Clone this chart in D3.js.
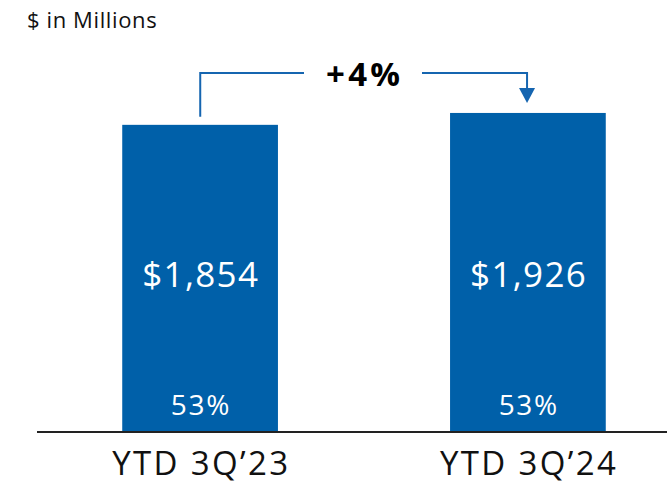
<!DOCTYPE html>
<html>
<head>
    <title>YTD 3Q Comparison</title>
    <script src="https://d3js.org/d3.v7.min.js"></script>
    <style>
        body { margin: 0; background: #fff; font-family: "Open Sans", Lato, sans-serif; }
    </style>
</head>
<body>
<div class="chart"></div>
<script>
    const categories = ["YTD 3Q\u201923", "YTD 3Q\u201924"];
    const values = [1854, 1926];
    const shares = ["53%", "53%"];
    const unitLabel = "$ in Millions";
    const changeLabel = "+4%";

    const W = 667, H = 486;
    const svg = d3.select(".chart").append("svg").attr("width", W).attr("height", H);

    const baseY = 431;
    const blue = "#0060A9";

    const x = d3.scaleBand().domain(categories).range([37, 691]).paddingInner(0.525).paddingOuter(0.26);
    const y = d3.scaleLinear().domain([0, 2610]).range([baseY, 0]);

    // the original face is wider than Open Sans, so stretch letter spacing a bit
    function widen(sel, extra) {
        sel.each(function() {
            const len = this.getComputedTextLength();
            d3.select(this).attr("textLength", len * extra).attr("lengthAdjust", "spacing");
        });
    }

    svg.append("text")
        .attr("x", 27).attr("y", 28)
        .attr("font-size", 22).attr("fill", "#111")
        .text(unitLabel)
        .call(widen, 1.06);

    svg.selectAll(".bar")
        .data(values)
        .enter().append("rect")
        .attr("class", "bar")
        .attr("x", (d, i) => x(categories[i]))
        .attr("width", x.bandwidth())
        .attr("y", d => y(d))
        .attr("height", d => baseY - y(d))
        .attr("fill", blue);

    svg.selectAll(".val")
        .data(values)
        .enter().append("text")
        .attr("x", (d, i) => x(categories[i]) + x.bandwidth() / 2)
        .attr("y", 287)
        .attr("text-anchor", "middle")
        .attr("font-size", 35).attr("fill", "#fff")
        .text(d => "$" + d3.format(",")(d))
        .call(widen, 1.06);

    svg.selectAll(".share")
        .data(shares)
        .enter().append("text")
        .attr("x", (d, i) => x(categories[i]) + x.bandwidth() / 2)
        .attr("y", 415)
        .attr("text-anchor", "middle")
        .attr("font-size", 28).attr("fill", "#fff")
        .text(d => d)
        .call(widen, 1.06);

    // baseline
    svg.append("line")
        .attr("x1", 37).attr("x2", W)
        .attr("y1", baseY + 1).attr("y2", baseY + 1)
        .attr("stroke", "#222").attr("stroke-width", 2);

    svg.selectAll(".cat")
        .data(categories)
        .enter().append("text")
        .attr("x", d => x(d) + x.bandwidth() / 2)
        .attr("y", 475)
        .attr("text-anchor", "middle")
        .attr("font-size", 33).attr("fill", "#111")
        .text(d => d)
        .call(widen, 1.12);

    // change bracket
    const x1 = x(categories[0]) + 78, x2 = x(categories[1]) + 77;
    const topY = 73;
    const bracket = svg.append("g").attr("stroke", "#1565B0").attr("stroke-width", 2).attr("fill", "none");
    bracket.append("path").attr("d", `M${x1},${y(values[0]) - 8}V${topY}H304`);
    bracket.append("path").attr("d", `M422,${topY}H${x2}V${89}`);
    svg.append("path")
        .attr("d", `M${x2 - 8},88L${x2 + 8},88L${x2},103Z`)
        .attr("fill", "#1565B0");

    svg.append("text")
        .attr("x", 363).attr("y", 86)
        .attr("text-anchor", "middle")
        .attr("font-size", 33).attr("font-weight", "bold").attr("fill", "#000")
        .text(changeLabel)
        .call(widen, 1.1);
</script>
</body>
</html>
